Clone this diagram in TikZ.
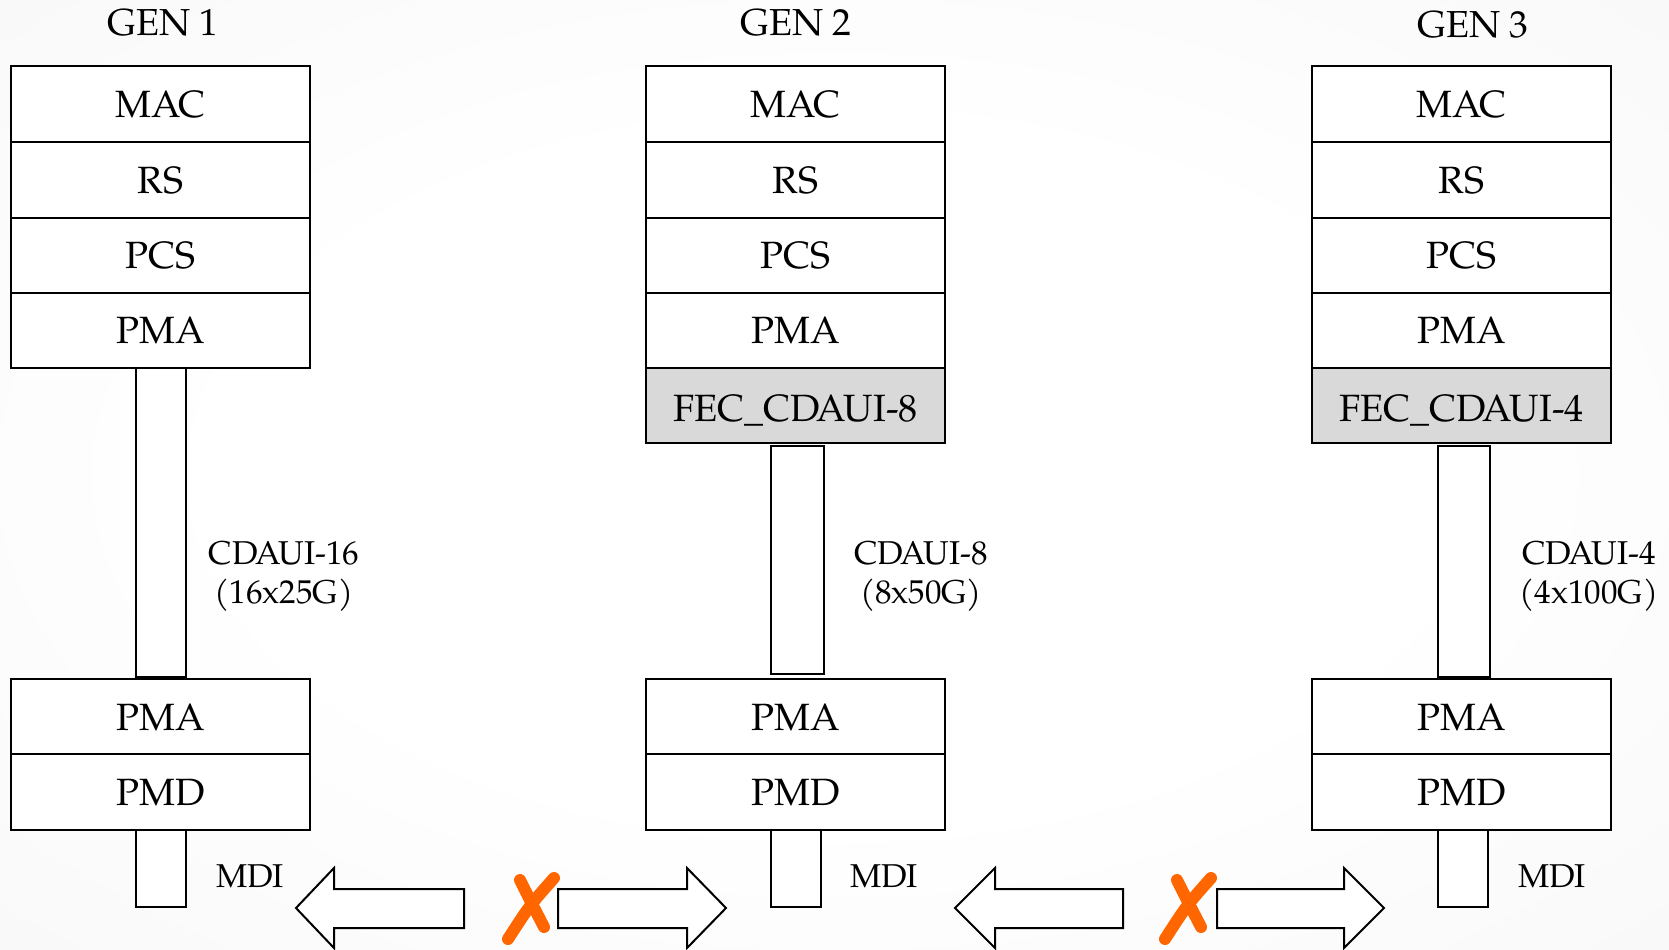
\documentclass[tikz,border=0pt]{standalone}
\usepackage{fontspec}
\setmainfont{TeX Gyre Pagella}
\definecolor{fecgray}{RGB}{217,217,217}
\definecolor{xorange}{RGB}{255,102,0}
\definecolor{bgedge}{RGB}{236,236,236}
\pgfdeclareradialshading{bgshade}{\pgfpoint{0bp}{0bp}}{color(0bp)=(white); color(18bp)=(white); color(72bp)=(bgedge); color(100bp)=(bgedge)}
\tikzset{
  layer/.style={draw, line width=1pt, fill=white, minimum width=149.5pt, minimum height=37.75pt, inner sep=0pt, text height=13.1pt, text depth=0pt, font=\fontsize{19}{22}\selectfont},
  fec/.style={layer, fill=fecgray, text height=16.3pt},
  bar/.style={draw, line width=1pt, fill=white, inner sep=0pt},
  gen/.style={font=\fontsize{18.8}{22}\selectfont},
  lbl/.style={font=\fontsize{16.5}{19.5}\selectfont, align=center},
  bigarrow/.style={draw, line width=1pt, fill=white, line join=miter},
  xmark/.style={draw=xorange, line width=6pt, line cap=round}
}
\begin{document}
\begin{tikzpicture}[x=0.5pt,y=-0.5pt]
\useasboundingbox (0,0) rectangle (1669,949);
\shade[shading=bgshade] (0,0) rectangle (1669,949);

% titles
\node[gen] (t1) at (163,23) {GEN 1};
\node[gen] (t2) at (796,23) {GEN 2};
\node[gen] (t3) at (1473,25) {GEN 3};

% interface bars
\node[bar, minimum width=25pt, minimum height=154.5pt] (b1) at (161,522.5) {};
\node[bar, minimum width=26.5pt, minimum height=114pt] (b2) at (797.5,560) {};
\node[bar, minimum width=26pt, minimum height=115.5pt] (b3) at (1464,561.5) {};
\node[bar, minimum width=25pt, minimum height=38.5pt] (m1) at (161,868.5) {};
\node[bar, minimum width=25pt, minimum height=38.5pt] (m2) at (796,868.5) {};
\node[bar, minimum width=25pt, minimum height=38.5pt] (m3) at (1463,868.5) {};

% GEN 1 stack
\node[layer] (g1mac) at (160.5,104) {MAC};
\node[layer] (g1rs) at (160.5,180) {RS};
\node[layer] (g1pcs) at (160.5,255.5) {PCS};
\node[layer] (g1pma) at (160.5,330.5) {PMA};
\node[layer] (g1pmb) at (160.5,717) {PMA};
\node[layer] (g1pmd) at (160.5,792) {PMD};

% GEN 2 stack
\node[layer] (g2mac) at (795.5,104) {MAC};
\node[layer] (g2rs) at (795.5,180) {RS};
\node[layer] (g2pcs) at (795.5,255.5) {PCS};
\node[layer] (g2pma) at (795.5,330.5) {PMA};
\node[fec] (g2fec) at (795.5,405.5) {FEC\_CDAUI-8};
\node[layer] (g2pmb) at (795.5,717) {PMA};
\node[layer] (g2pmd) at (795.5,792) {PMD};

% GEN 3 stack
\node[layer] (g3mac) at (1461.5,104) {MAC};
\node[layer] (g3rs) at (1461.5,180) {RS};
\node[layer] (g3pcs) at (1461.5,255.5) {PCS};
\node[layer] (g3pma) at (1461.5,330.5) {PMA};
\node[fec] (g3fec) at (1461.5,405.5) {FEC\_CDAUI-4};
\node[layer] (g3pmb) at (1461.5,717) {PMA};
\node[layer] (g3pmd) at (1461.5,792) {PMD};

% labels
\node[lbl] (l1) at (284,576) {CDAUI-16\\(16x25G)};
\node[lbl] (l2) at (921,576) {CDAUI-8\\(8x50G)};
\node[lbl] (l3) at (1589,576) {CDAUI-4\\(4x100G)};
\node[lbl] (d1) at (250,876) {MDI};
\node[lbl] (d2) at (884,876) {MDI};
\node[lbl] (d3) at (1552,876) {MDI};

% arrows
\draw[bigarrow] (296,908) -- (334,868) -- (334,889) -- (464,889) -- (464,928) -- (334,928) -- (334,948) -- cycle;
\draw[bigarrow] (726,908) -- (687,868) -- (687,889) -- (558,889) -- (558,928) -- (687,928) -- (687,948) -- cycle;
\draw[bigarrow] (955,908) -- (995,868) -- (995,889) -- (1123,889) -- (1123,928) -- (995,928) -- (995,948) -- cycle;
\draw[bigarrow] (1384,908) -- (1344,868) -- (1344,889) -- (1217,889) -- (1217,928) -- (1344,928) -- (1344,948) -- cycle;

% crosses
\draw[xmark] (520,880) .. controls (530,900) .. (544,927);
\draw[xmark] (554,878) .. controls (530,905) .. (508,939);
\draw[xmark] (1177,880) .. controls (1187,900) .. (1201,927);
\draw[xmark] (1211,878) .. controls (1187,905) .. (1165,939);
\end{tikzpicture}
\end{document}
